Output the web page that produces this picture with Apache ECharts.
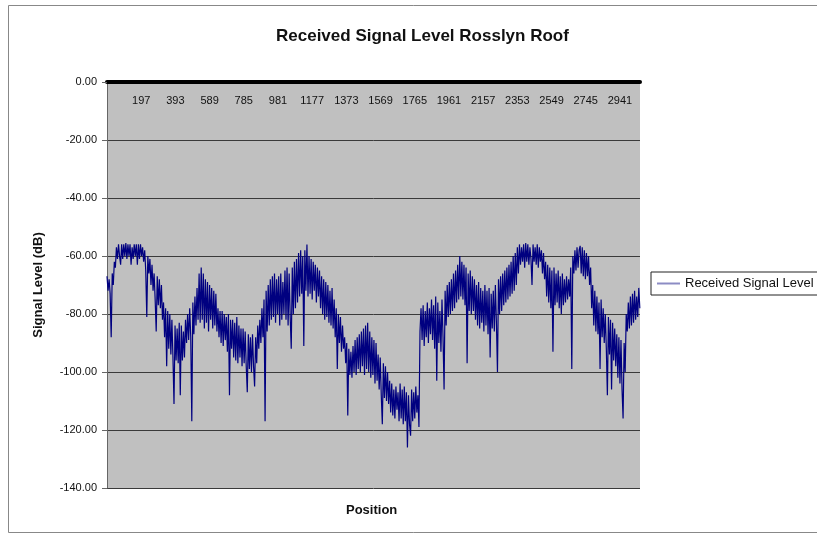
<!DOCTYPE html>
<html><head><meta charset="utf-8">
<script src="https://cdn.jsdelivr.net/npm/echarts@6/dist/echarts.min.js"></script>
<style>html,body{margin:0;padding:0;background:#fff}#c{width:817px;height:535px}</style>
</head><body><div id="c"></div>
<script>
// Chart text
const chartTitle = 'Received Signal Level Rosslyn Roof';
const seriesName = 'Received Signal Level';
const yAxisName = 'Signal Level (dB)';
const xAxisName = 'Position';

// Category axis: positions 1..positionCount, labelled every 196
const positionCount = 3056;
const labelEvery = 196;

// Signal level readings (dB), every 6 positions
// (alternating upper / lower edge of the noisy trace, with the deep dips)
const sampleStep = 6;
const level = [
  -67,-72,-68,-73,-88,-66,-70,-62,-64,-57,
  -61,-56,-60,-63,-56,-61,-56,-60,-55.5,-61,
  -56,-60,-56,-63,-57,-61,-56,-60,-56,-63,
  -56,-61,-56,-60,-57,-62,-58,-65,-81,-60,
  -66,-61,-70,-63,-72,-66,-75,-86,-67,-77,
  -68,-78,-70,-82,-76,-88,-78,-98,-79,-92,
  -80,-94,-82,-95,-111,-84,-96,-85,-97,-83,
  -108,-84,-96,-86,-95,-82,-90,-80,-89,-78,
  -88,-117,-76,-87,-74,-84,-71,-82,-66,-83,
  -64,-82,-66,-85,-68,-83,-69,-86,-70,-82,
  -71,-85,-72,-84,-73,-86,-78,-88,-79,-90,
  -79,-91,-80,-89,-81,-93,-80,-108,-82,-92,
  -82,-95,-83,-96,-81,-97,-84,-95,-85,-98,
  -85,-97,-86,-98,-107,-87,-99,-88,-100,-87,
  -98,-105,-88,-97,-84,-92,-82,-90,-78,-88,
  -75,-117,-72,-86,-70,-84,-68,-82,-67,-81,
  -66,-83,-68,-80,-67,-84,-66,-82,-69,-80,
  -65,-82,-64,-84,-66,-81,-92,-64,-80,-62,
  -78,-61,-76,-59,-74,-58,-73,-60,-91,-58,
  -72,-56,-74,-60,-73,-61,-75,-62,-72,-63,
  -76,-64,-74,-65,-78,-67,-80,-68,-82,-69,
  -81,-70,-83,-72,-84,-71,-85,-75,-88,-78,
  -99,-80,-90,-81,-93,-84,-92,-88,-97,-90,
  -115,-92,-101,-93,-102,-91,-100,-89,-101,-88,
  -99,-87,-100,-86,-98,-85,-101,-84,-99,-83,
  -100,-86,-102,-88,-101,-89,-104,-90,-103,-94,
  -106,-95,-108,-118,-97,-109,-98,-110,-100,-111,
  -103,-114,-104,-115,-106,-116,-105,-113,-107,-117,
  -104,-116,-106,-118,-105,-117,-107,-126,-108,-118,
  -122,-106,-117,-107,-116,-105,-114,-108,-119,-86,
  -78,-89,-77,-91,-79,-88,-76,-90,-78,-87,
  -75,-89,-77,-92,-74,-103,-76,-90,-79,-93,
  -75,-88,-106,-72,-84,-70,-81,-69,-80,-68,
  -79,-66,-78,-65,-76,-63,-75,-60,-74,-62,
  -75,-63,-77,-64,-97,-66,-79,-65,-80,-67,
  -79,-68,-82,-70,-84,-69,-85,-71,-83,-72,
  -86,-70,-84,-72,-87,-71,-95,-73,-85,-72,
  -86,-70,-83,-100,-68,-80,-67,-79,-66,-77,
  -65,-76,-64,-75,-63,-74,-62,-73,-60,-72,
  -59,-70,-57,-66,-56,-63,-57,-62,-56,-64,
  -55.5,-62,-56,-63,-57,-61,-70,-56,-62,-57,
  -63,-56,-64,-57,-62,-58,-66,-59,-68,-62,
  -74,-63,-76,-64,-78,-65,-93,-64,-77,-66,
  -76,-65,-78,-67,-80,-66,-77,-68,-76,-67,
  -75,-68,-74,-64,-99,-60,-66,-58,-65,-57,
  -64,-58,-56.5,-66,-57,-67,-58,-68,-59,-67,
  -60,-70,-64,-78,-70,-84,-72,-86,-74,-87,
  -76,-99,-75,-88,-78,-90,-80,-92,-108,-81,
  -94,-82,-106,-83,-96,-85,-98,-87,-102,-88,
  -104,-89,-106,-116,-90,-100,-80,-86,-76,-85,
  -74,-84,-73,-83,-72,-82,-74,-81,-71,-78
];

// Y axis range
const yMin = -140, yMax = 0, yStep = 20;

const categories = Array.from({length: positionCount}, (_, i) => String(i + 1));
const seriesData = level.map((v, k) => [k * sampleStep, v]);

const FONT = "'Liberation Sans', Arial, sans-serif";
const chart = echarts.init(document.getElementById('c'), null, {renderer: 'canvas'});
chart.setOption({
  animation: false,
  backgroundColor: '#ffffff',
  textStyle: {fontFamily: FONT},
  title: {
    text: chartTitle, left: 271, top: 23,
    textStyle: {fontFamily: FONT, fontSize: 17, fontWeight: 'bold', color: '#111'}
  },
  legend: {
    data: [{name: seriesName, icon: 'rect', itemStyle: {color: '#8c8cc4'}}],
    left: 651, top: 272, orient: 'vertical',
    itemWidth: 23, itemHeight: 2, itemGap: 4,
    padding: [5, 4, 5, 6],
    borderColor: '#222', borderWidth: 1,
    textStyle: {fontFamily: FONT, fontSize: 13, color: '#111'}
  },
  grid: {
    left: 107, right: 177, top: 82, bottom: 47,
    show: true, backgroundColor: '#c0c0c0', borderWidth: 0
  },
  xAxis: {
    type: 'category', data: categories, position: 'top', boundaryGap: false,
    axisLine: {show: true, lineStyle: {color: '#000', width: 4}},
    axisTick: {show: false},
    axisLabel: {
      inside: true, margin: 13, fontSize: 11, color: '#111', fontFamily: FONT,
      interval: (idx) => idx > 0 && idx % labelEvery === 0
    },
    splitLine: {show: false}
  },
  yAxis: {
    type: 'value', min: yMin, max: yMax, interval: yStep,
    name: yAxisName, nameLocation: 'middle', nameGap: 62, nameRotate: 90,
    nameTextStyle: {fontFamily: FONT, fontSize: 13, fontWeight: 'bold', color: '#111'},
    axisLine: {show: true, lineStyle: {color: '#666', width: 1}},
    axisTick: {show: true, length: 5, lineStyle: {color: '#666'}},
    axisLabel: {fontSize: 11, color: '#111', margin: 10, fontFamily: FONT,
      formatter: (v) => v.toFixed(2)},
    splitLine: {show: true, lineStyle: {color: '#3a3a3a', width: 1}}
  },
  series: [{
    name: seriesName, type: 'line', data: seriesData,
    showSymbol: false, symbol: 'none', sampling: false,
    lineStyle: {color: '#000080', width: 1.2},
    itemStyle: {color: '#000080'}
  }],
  graphic: [
    {type: 'rect', shape: {x: 8.5, y: 5.5, width: 840, height: 527},
     style: {fill: 'none', stroke: '#888', lineWidth: 1}, silent: true, z: -1},
    {type: 'text', left: 346, top: 504,
     style: {text: xAxisName, font: "bold 13px 'Liberation Sans', Arial, sans-serif", fill: '#111'}}
  ]
});
</script></body></html>
